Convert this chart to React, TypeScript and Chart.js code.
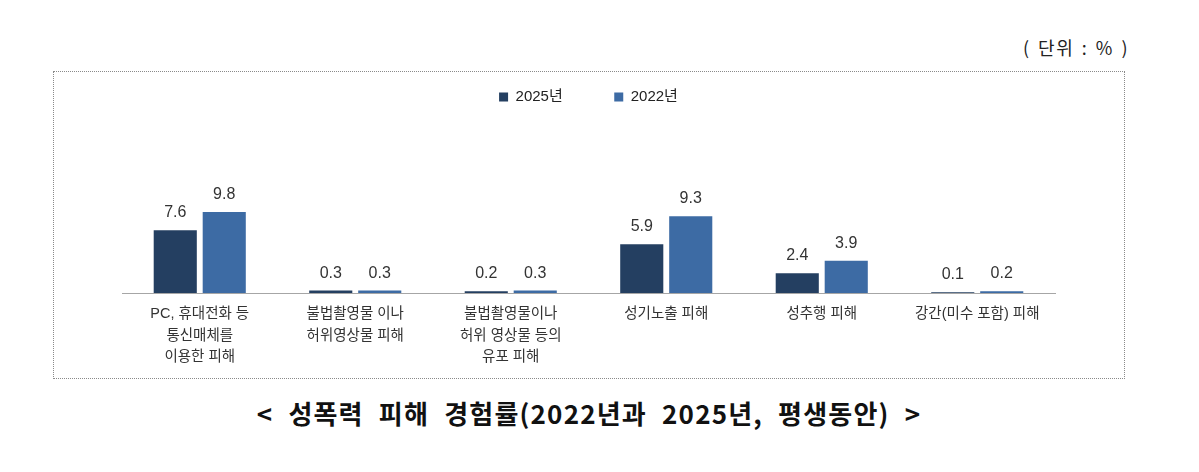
import React, { useEffect, useRef } from "react";
import { Chart, registerables } from "chart.js";

Chart.register(...registerables);

const categories: (string | string[])[] = [
  ["PC, 휴대전화 등", "통신매체를", "이용한 피해"],
  ["불법촬영물 이나", "허위영상물 피해"],
  ["불법촬영물이나", "허위 영상물 등의", "유포 피해"],
  "성기노출 피해",
  "성추행 피해",
  "강간(미수 포함) 피해",
];
const seriesLabels = ["2025년", "2022년"];
const values2025 = [7.6, 0.3, 0.2, 5.9, 2.4, 0.1];
const values2022 = [9.8, 0.3, 0.3, 9.3, 3.9, 0.2];
const unitText = "( 단위 : % )";
const titleText = "< 성폭력 피해 경험률(2022년과 2025년, 평생동안) >";

const FONT = "'Liberation Sans', 'Noto Sans CJK KR', sans-serif";

const valueLabels = {
  id: "valueLabels",
  afterDatasetsDraw(chart: any) {
    const ctx = chart.ctx;
    ctx.save();
    ctx.font = `16px ${FONT}`;
    ctx.fillStyle = "#333333";
    ctx.textAlign = "center";
    ctx.textBaseline = "alphabetic";
    chart.data.datasets.forEach((ds: any, i: number) => {
      const meta = chart.getDatasetMeta(i);
      meta.data.forEach((bar: any, j: number) => {
        ctx.fillText(Number(ds.data[j]).toFixed(1), bar.x, bar.y - 13);
      });
    });
    ctx.restore();
  },
};

export default function App() {
  const ref = useRef<HTMLCanvasElement | null>(null);

  useEffect(() => {
    if (!ref.current) return;
    const chart = new Chart(ref.current, {
      type: "bar",
      data: {
        labels: categories,
        datasets: [
          {
            label: seriesLabels[0],
            data: values2025,
            backgroundColor: "#243F61",
            borderWidth: 0,
            barPercentage: 0.88,
            categoryPercentage: 0.63,
          },
          {
            label: seriesLabels[1],
            data: values2022,
            backgroundColor: "#3D6BA4",
            borderWidth: 0,
            barPercentage: 0.88,
            categoryPercentage: 0.63,
          },
        ],
      },
      options: {
        responsive: false,
        animation: false,
        layout: { padding: { top: -34, left: 68, right: 69, bottom: 0 } },
        plugins: {
          legend: {
            position: "top",
            align: "center",
            labels: {
              boxWidth: 9,
              boxHeight: 9,
              padding: 51.5,
              color: "#222222",
              font: { size: 15, family: FONT },
            },
          },
          tooltip: { enabled: false },
        },
        scales: {
          x: {
            grid: { display: false, drawTicks: false },
            border: { display: true, color: "#A6A6A6", width: 1 },
            ticks: {
              color: "#333333",
              padding: 10,
              maxRotation: 0,
              autoSkip: false,
              font: { size: 14.5, family: FONT, lineHeight: 1.5 },
            },
            afterFit: (axis: any) => {
              axis.height = 85;
            },
          },
          y: {
            display: false,
            min: 0,
            max: 21.6,
          },
        },
      },
      plugins: [valueLabels],
    });
    return () => chart.destroy();
  }, []);

  return (
    <div
      style={{
        position: "fixed",
        left: 0,
        top: 0,
        width: 1199,
        height: 472,
        background: "#ffffff",
        overflow: "hidden",
      }}
    >
      <div
        style={{
          position: "absolute",
          right: 70,
          top: 34,
          fontFamily: "'Noto Sans CJK KR', sans-serif",
          fontWeight: 400,
          fontSize: 18,
          letterSpacing: 1.5,
          wordSpacing: 2,
          color: "#222",
          whiteSpace: "pre",
        }}
      >
        {unitText}
      </div>
      <div
        style={{
          position: "absolute",
          left: 53,
          top: 71,
          width: 1070,
          height: 306,
          border: "1px dotted #8a8a8a",
        }}
      >
        <canvas ref={ref} width={1070} height={306} style={{ display: "block" }} />
      </div>
      <div
        style={{
          position: "absolute",
          left: 0,
          top: 396,
          width: 1178,
          textAlign: "center",
          fontFamily: "'Noto Sans CJK KR', sans-serif",
          fontWeight: 700,
          fontSize: 26,
          lineHeight: "34px",
          letterSpacing: 1.2,
          wordSpacing: 8,
          color: "#111",
          whiteSpace: "pre",
        }}
      >
        {titleText}
      </div>
    </div>
  );
}
